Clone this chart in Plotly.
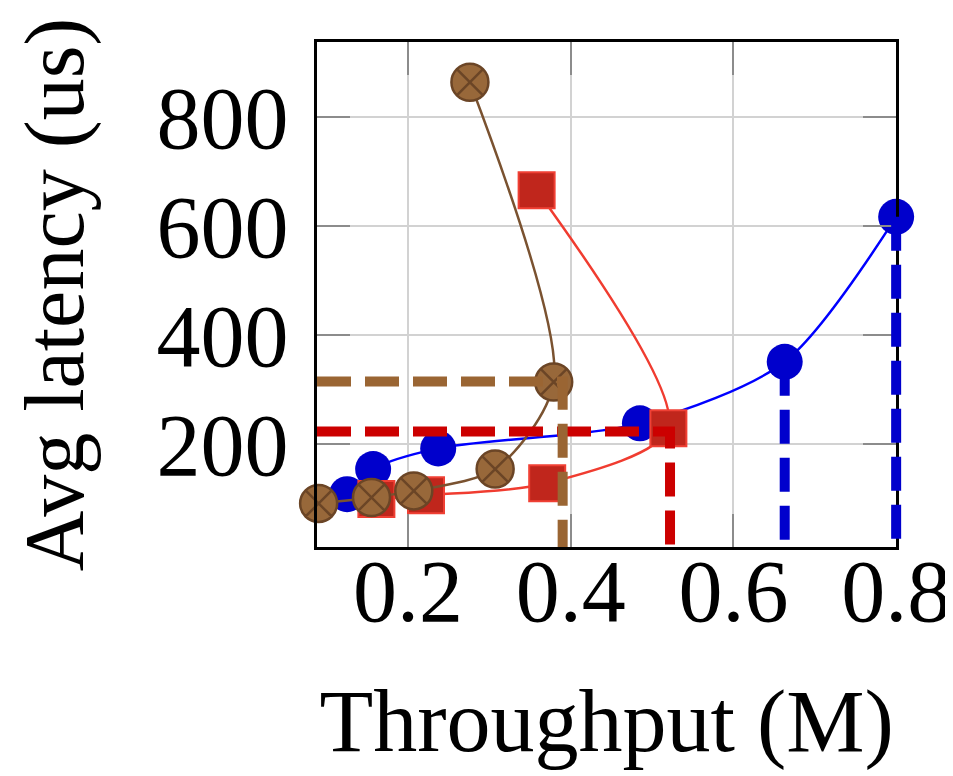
import plotly.graph_objects as go

# ---------------- data ----------------
blue_x = [0.125, 0.157, 0.237, 0.485, 0.663, 0.800]
blue_y = [108, 154, 192, 238, 351, 617]

red_x = [0.161, 0.222, 0.371, 0.520, 0.358]
red_y = [99, 106, 128, 229, 666]

brown_x = [0.090, 0.155, 0.207, 0.307, 0.379, 0.276]
brown_y = [91, 102, 114, 154, 314, 864]

# saturation guides (dashed)
brown_sat_x, brown_sat_y = 0.390, 315
red_sat_x, red_sat_y = 0.522, 223
blue_sat_x = [0.663, 0.800]
blue_sat_y = [351, 617]

x_tickvals = [0.2, 0.4, 0.6, 0.8]
x_ticktext = ["0.2", "0.4", "0.6", "0.8"]
y_tickvals = [200, 400, 600, 800]
y_ticktext = ["200", "400", "600", "800"]

X_RANGE = [0.088, 0.8]
Y_RANGE = [11, 938]

# ---------------- styling ----------------
FONT = "Liberation Serif, Times New Roman, serif"
BLUE_LINE, BLUE_MK, BLUE_DASH = "#0000ff", "#0000cc", "#0000cc"
RED_LINE, RED_MK, RED_EDGE, RED_DASH = "#f03c30", "#c0261c", "#f04034", "#cc0000"
BROWN_LINE, BROWN_MK, BROWN_EDGE, BROWN_DASH = "#7a5230", "#98683a", "#6b4526", "#9a6533"

# a wider, invisible overlay subplot so thick guides on the frame are not cut
MAIN_FRAC = 0.975
x2_range = [X_RANGE[0], X_RANGE[0] + (X_RANGE[1] - X_RANGE[0]) / MAIN_FRAC]

fig = go.Figure()

fig.add_trace(go.Scatter(
    x=blue_x, y=blue_y, mode="lines+markers", cliponaxis=False,
    line=dict(color=BLUE_LINE, width=2.5, shape="spline", smoothing=0.8),
    marker=dict(symbol="circle", size=36, color=BLUE_MK, line=dict(width=0)),
    showlegend=False))

fig.add_trace(go.Scatter(
    x=red_x, y=red_y, mode="lines+markers", cliponaxis=False,
    line=dict(color=RED_LINE, width=2.5, shape="spline", smoothing=0.8),
    marker=dict(symbol="square", size=36, color=RED_MK, line=dict(width=2, color=RED_EDGE)),
    showlegend=False))

fig.add_trace(go.Scatter(
    x=brown_x, y=brown_y, mode="lines+markers", cliponaxis=False,
    line=dict(color=BROWN_LINE, width=2.5, shape="spline", smoothing=0.8),
    marker=dict(symbol="circle-x", size=37, color=BROWN_MK, line=dict(width=2.5, color=BROWN_EDGE)),
    showlegend=False))

DASH = "34px,14px"
bx, by = [], []
for sx, sy in zip(blue_sat_x, blue_sat_y):
    bx += [sx, sx, None]
    by += [sy, Y_RANGE[0], None]
fig.add_trace(go.Scatter(
    x=bx, y=by, mode="lines", xaxis="x2", yaxis="y2",
    line=dict(color=BLUE_DASH, width=10, dash=DASH), showlegend=False))
fig.add_trace(go.Scatter(
    x=[X_RANGE[0], red_sat_x, red_sat_x], y=[red_sat_y, red_sat_y, Y_RANGE[0]],
    mode="lines", xaxis="x2", yaxis="y2",
    line=dict(color=RED_DASH, width=10, dash=DASH), showlegend=False))
fig.add_trace(go.Scatter(
    x=[X_RANGE[0], brown_sat_x, brown_sat_x], y=[brown_sat_y, brown_sat_y, Y_RANGE[0]],
    mode="lines", xaxis="x2", yaxis="y2",
    line=dict(color=BROWN_DASH, width=10, dash=DASH), showlegend=False))

axis_common = dict(
    showline=True, linecolor="black", linewidth=3, mirror="ticks",
    ticks="inside", ticklen=33, tickwidth=2, tickcolor="#8c8c8c",
    showgrid=True, gridcolor="#d2d2d2", gridwidth=2, zeroline=False,
    automargin=False,
    tickfont=dict(family=FONT, size=88, color="black"),
)

# the page body adds an 8px offset, so the figure is sized to fit the window
fig.update_layout(
    width=945, height=768,
    margin=dict(l=309, r=42, t=34, b=229),
    paper_bgcolor="white", plot_bgcolor="rgba(0,0,0,0)",
    xaxis=dict(range=X_RANGE, domain=[0, MAIN_FRAC], tickvals=x_tickvals, ticktext=x_ticktext,
               ticklabelstandoff=-35,
               title=dict(text="Throughput (M)", font=dict(family=FONT, size=88, color="black"), standoff=51),
               **axis_common),
    yaxis=dict(range=Y_RANGE, tickvals=y_tickvals, ticktext=y_ticktext, ticklabelstandoff=8,
               title=dict(text="Avg latency (us)", font=dict(family=FONT, size=84, color="black"), standoff=67),
               **axis_common),
    xaxis2=dict(range=x2_range, domain=[0, 1], anchor="y2", visible=False),
    yaxis2=dict(range=Y_RANGE, domain=[0, 1], anchor="x2", visible=False),
)

fig.write_html("out.html")
